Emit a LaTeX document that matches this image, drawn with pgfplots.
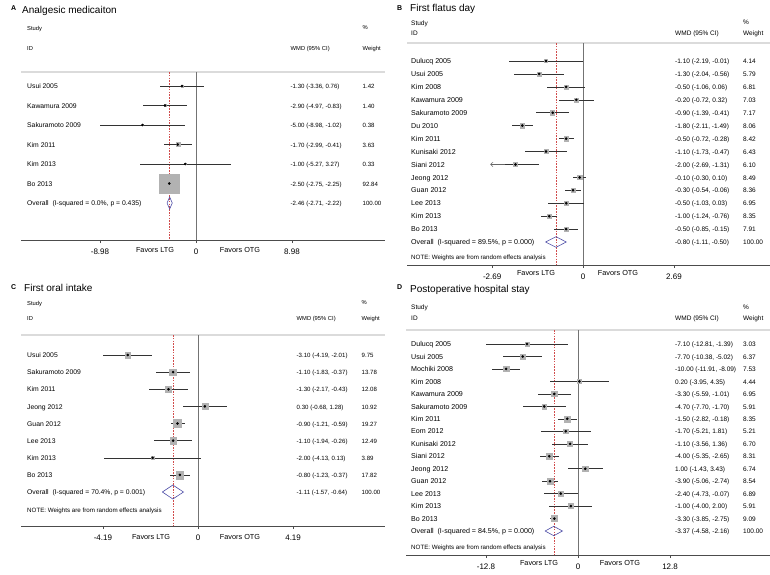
\documentclass[border=0pt]{standalone}
\usepackage{pgfplots}
\pgfplotsset{compat=1.18}
\usepackage{pgfplotstable}
\usepackage{fontspec}
\setmainfont{Liberation Sans}
\usetikzlibrary{arrows.meta}

\definecolor{boxgray}{rgb}{0.70,0.70,0.70}
\definecolor{dmd}{rgb}{0.30,0.30,0.65}
\definecolor{refred}{rgb}{0.82,0.30,0.30}
\definecolor{hdr}{rgb}{0.86,0.86,0.86}
\definecolor{axc}{rgb}{0.30,0.30,0.30}

\newcommand\ftitle{\fontsize{10}{12}\selectfont}
\newcommand\flet{\fontsize{7}{8}\selectfont\bfseries}
\newcommand\fnameS{\fontsize{6.8}{8}\selectfont}
\newcommand\fnameL{\fontsize{7.1}{8}\selectfont}
\newcommand\fheadS{\fontsize{5.8}{7}\selectfont}
\newcommand\fheadL{\fontsize{6.5}{7}\selectfont}
\newcommand\fvalS{\fontsize{6.1}{7}\selectfont}
\newcommand\fvalL{\fontsize{6.5}{7}\selectfont}
\newcommand\fnote{\fontsize{6.2}{7}\selectfont}
\newcommand\ffav{\fontsize{7.3}{8}\selectfont}
\newcommand\ftick{\fontsize{8}{9}\selectfont}

% ---------------- data (y = row position, est, lo, hi, weight) -------------
\pgfplotstableread{
y est lo hi w
-86 -1.30 -3.36 0.76 1.42
-105.5 -2.90 -4.97 -0.83 1.40
-125 -5.00 -8.98 -1.02 0.38
-144.5 -1.70 -2.99 -0.41 3.63
-164 -1.00 -5.27 3.27 0.33
-183.5 -2.50 -2.75 -2.25 92.84
}\tabA
\pgfplotstableread{
y est lo hi w
-61 -1.10 -2.19 -0.01 4.14
-73.9 -1.30 -2.04 -0.56 5.79
-86.9 -0.50 -1.06 0.06 6.81
-99.8 -0.20 -0.72 0.32 7.03
-112.7 -0.90 -1.39 -0.41 7.17
-125.6 -1.80 -2.11 -1.49 8.06
-138.6 -0.50 -0.72 -0.28 8.42
-151.5 -1.10 -1.73 -0.47 6.43
-164.4 -2.00 -2.69 -1.31 6.10
-177.4 -0.10 -0.30 0.10 8.49
-190.3 -0.30 -0.54 -0.06 8.36
-203.2 -0.50 -1.03 0.03 6.95
-216.2 -1.00 -1.24 -0.76 8.35
-229.1 -0.50 -0.85 -0.15 7.91
}\tabB
\pgfplotstableread{
y est lo hi w
-355 -3.10 -4.19 -2.01 9.75
-372.1 -1.10 -1.83 -0.37 13.78
-389.3 -1.30 -2.17 -0.43 12.08
-406.4 0.30 -0.68 1.28 10.92
-423.5 -0.90 -1.21 -0.59 19.27
-440.6 -1.10 -1.94 -0.26 12.49
-457.8 -2.00 -4.13 0.13 3.89
-474.9 -0.80 -1.23 -0.37 17.82
}\tabC
\pgfplotstableread{
y est lo hi w
-344 -7.10 -12.81 -1.39 3.03
-356.5 -7.70 -10.38 -5.02 6.37
-368.9 -10.00 -11.91 -8.09 7.53
-381.4 0.20 -3.95 4.35 4.44
-393.9 -3.30 -5.59 -1.01 6.95
-406.4 -4.70 -7.70 -1.70 5.91
-418.8 -1.50 -2.82 -0.18 8.35
-431.3 -1.70 -5.21 1.81 5.21
-443.8 -1.10 -3.56 1.36 6.70
-456.2 -4.00 -5.35 -2.65 8.31
-468.7 1.00 -1.43 3.43 6.74
-481.2 -3.90 -5.06 -2.74 8.54
-493.6 -2.40 -4.73 -0.07 6.89
-506.1 -1.00 -4.00 2.00 5.91
-518.6 -3.30 -3.85 -2.75 9.09
}\tabD

\pgfplotsset{
  forest/.style={scale only axis, anchor=south west, clip=false,
    axis x line=bottom, axis y line=none,
    x axis line style={-}, axis line style={axc, line width=0.6pt},
    tick align=outside, major tick length=3pt,
    xtick style={axc, line width=0.5pt},
    ytick=\empty,
    xticklabel style={font=\ftick, yshift=-2pt},
  },
  boxes/.style={scatter, only marks, mark=square*,
    scatter/use mapped color={draw=boxgray, fill=boxgray},
    visualization depends on={#1*sqrt(\thisrow{w}) \as \msz},
    scatter/@pre marker code/.append style={/tikz/mark size=\msz}},
  cis/.style={only marks, mark=*, mark size=1.1pt, black,
    error bars/x dir=both, error bars/x explicit, error bars/error mark=none,
    error bars/error bar style={line width=0.55pt, black!80}},
  zeroline/.style={black!55, line width=1pt},
  estline/.style={refred, line width=0.45pt, dash pattern=on 1.6pt off 1.2pt},
  hdrline/.style={hdr, line width=1.2pt},
  dia/.style={dmd, line width=0.6pt, line join=miter},
}
\tikzset{txt/.style={anchor=mid west, inner sep=0pt}}

\begin{document}
\begin{tikzpicture}
\useasboundingbox (0,0) rectangle (770pt,-574pt);

% ======================= Panel A =======================
\begin{axis}[forest, at={(21pt,-240pt)}, width=364pt, height=168pt,
  xmin=-16.37, xmax=17.68, ymin=-240, ymax=-72,
  xtick={-8.98,0,8.98}, xticklabels={-8.98,0,8.98}]
  \addplot[hdrline] coordinates {(-16.37,-72) (17.68,-72)};
  \addplot[estline] coordinates {(-2.46,-72) (-2.46,-240)};
  \addplot[zeroline] coordinates {(0,-72) (0,-240)};
  \addplot[boxes=1.0] table[x=est, y=y] {\tabA};
  \addplot[cis] table[x=est, y=y, x error plus expr={\thisrow{hi}-\thisrow{est}}, x error minus expr={\thisrow{est}-\thisrow{lo}}] {\tabA};
  \addplot[dia] coordinates {(-2.71,-203) (-2.46,-197) (-2.22,-203) (-2.46,-209) (-2.71,-203)};
\end{axis}

% ======================= Panel B =======================
\begin{axis}[forest, at={(407pt,-265pt)}, width=363pt, height=222pt,
  xmin=-5.21, xmax=5.53, ymin=-265, ymax=-43,
  xtick={-2.69,0,2.69}, xticklabels={-2.69,0,2.69}]
  \addplot[hdrline] coordinates {(-5.21,-43) (5.53,-43)};
  \addplot[estline] coordinates {(-0.80,-43) (-0.80,-265)};
  \addplot[zeroline] coordinates {(0,-43) (0,-265)};
  \addplot[boxes=0.75] table[x=est, y=y] {\tabB};
  \addplot[cis] table[x=est, y=y, x error plus expr={\thisrow{hi}-\thisrow{est}}, x error minus expr={\thisrow{est}-\thisrow{lo}}] {\tabB};
  \addplot[black!60, line width=0.5pt, -{Straight Barb[length=2.5pt,width=4.5pt]}] coordinates {(-2.3,-164.4) (-2.75,-164.4)};
  \addplot[dia] coordinates {(-1.11,-242) (-0.80,-236.7) (-0.50,-242) (-0.80,-247.3) (-1.11,-242)};
\end{axis}

% ======================= Panel C =======================
\begin{axis}[forest, at={(21pt,-526pt)}, width=364pt, height=191pt,
  xmin=-7.80, xmax=8.24, ymin=-526, ymax=-335,
  xtick={-4.19,0,4.19}, xticklabels={-4.19,0,4.19}]
  \addplot[hdrline] coordinates {(-7.80,-335) (8.24,-335)};
  \addplot[estline] coordinates {(-1.11,-335) (-1.11,-526)};
  \addplot[zeroline] coordinates {(0,-335) (0,-526)};
  \addplot[boxes=0.91] table[x=est, y=y] {\tabC};
  \addplot[cis] table[x=est, y=y, x error plus expr={\thisrow{hi}-\thisrow{est}}, x error minus expr={\thisrow{est}-\thisrow{lo}}] {\tabC};
  \addplot[dia] coordinates {(-1.57,-492) (-1.11,-485) (-0.64,-492) (-1.11,-499) (-1.57,-492)};
\end{axis}

% ======================= Panel D =======================
\begin{axis}[forest, at={(406pt,-555pt)}, width=364pt, height=225pt,
  xmin=-23.92, xmax=26.70, ymin=-555, ymax=-330,
  xtick={-12.8,0,12.8}, xticklabels={-12.8,0,12.8}]
  \addplot[hdrline] coordinates {(-23.92,-330) (26.70,-330)};
  \addplot[estline] coordinates {(-3.37,-330) (-3.37,-555)};
  \addplot[zeroline] coordinates {(0,-330) (0,-555)};
  \addplot[boxes=1.0] table[x=est, y=y] {\tabD};
  \addplot[cis] table[x=est, y=y, x error plus expr={\thisrow{hi}-\thisrow{est}}, x error minus expr={\thisrow{est}-\thisrow{lo}}] {\tabD};
  \addplot[dia] coordinates {(-4.58,-531) (-3.37,-526.3) (-2.16,-531) (-3.37,-535.7) (-4.58,-531)};
\end{axis}

% ======================= Texts: Panel A =======================
\node[txt, font=\flet] at (11pt,-8pt) {A};
\node[txt, font=\ftitle] at (22pt,-11pt) {Analgesic medicaiton};
\node[txt, font=\fheadS] at (27pt,-28.3pt) {Study};
\node[txt, font=\fheadS] at (27pt,-48.3pt) {ID};
\node[txt, font=\fheadS] at (290.5pt,-48.3pt) {WMD (95\% CI)};
\node[txt, font=\fheadS] at (362.5pt,-27.3pt) {\%};
\node[txt, font=\fheadS] at (362.5pt,-48.3pt) {Weight};
\foreach \y/\n/\v/\w in {
  86/Usui 2005/{-1.30 (-3.36, 0.76)}/1.42,
  105.5/Kawamura 2009/{-2.90 (-4.97, -0.83)}/1.40,
  125/Sakuramoto 2009/{-5.00 (-8.98, -1.02)}/0.38,
  144.5/Kim 2011/{-1.70 (-2.99, -0.41)}/3.63,
  164/Kim 2013/{-1.00 (-5.27, 3.27)}/0.33,
  183.5/Bo 2013/{-2.50 (-2.75, -2.25)}/92.84,
  203/{Overall\ \ (I-squared = 0.0\%, p = 0.435)}/{-2.46 (-2.71, -2.22)}/100.00}{
  \node[txt, font=\fnameS] at (27pt,-\y pt) {\n};
  \node[txt, font=\fvalS] at (290.5pt,-\y pt) {\v};
  \node[txt, font=\fvalS] at (362.5pt,-\y pt) {\w};
}
\node[font=\ffav, inner sep=0pt] at (155pt,-250pt) {Favors LTG};
\node[font=\ffav, inner sep=0pt] at (240pt,-250pt) {Favors OTG};

% ======================= Texts: Panel B =======================
\node[txt, font=\flet] at (397pt,-8pt) {B};
\node[txt, font=\ftitle] at (410pt,-9pt) {First flatus day};
\node[txt, font=\fheadL] at (411pt,-22.7pt) {Study};
\node[txt, font=\fheadL] at (411pt,-33.3pt) {ID};
\node[txt, font=\fheadL] at (675pt,-33.3pt) {WMD (95\% CI)};
\node[txt, font=\fheadL] at (743pt,-21.7pt) {\%};
\node[txt, font=\fheadL] at (743pt,-33.3pt) {Weight};
\foreach \y/\n/\v/\w in {
  61/Dulucq 2005/{-1.10 (-2.19, -0.01)}/4.14,
  73.9/Usui 2005/{-1.30 (-2.04, -0.56)}/5.79,
  86.9/Kim 2008/{-0.50 (-1.06, 0.06)}/6.81,
  99.8/Kawamura 2009/{-0.20 (-0.72, 0.32)}/7.03,
  112.7/Sakuramoto 2009/{-0.90 (-1.39, -0.41)}/7.17,
  125.6/Du 2010/{-1.80 (-2.11, -1.49)}/8.06,
  138.6/Kim 2011/{-0.50 (-0.72, -0.28)}/8.42,
  151.5/Kunisaki 2012/{-1.10 (-1.73, -0.47)}/6.43,
  164.4/Siani 2012/{-2.00 (-2.69, -1.31)}/6.10,
  177.4/Jeong 2012/{-0.10 (-0.30, 0.10)}/8.49,
  190.3/Guan 2012/{-0.30 (-0.54, -0.06)}/8.36,
  203.2/Lee 2013/{-0.50 (-1.03, 0.03)}/6.95,
  216.2/Kim 2013/{-1.00 (-1.24, -0.76)}/8.35,
  229.1/Bo 2013/{-0.50 (-0.85, -0.15)}/7.91,
  242/{Overall\ \ (I-squared = 89.5\%, p = 0.000)}/{-0.80 (-1.11, -0.50)}/100.00}{
  \node[txt, font=\fnameL] at (411pt,-\y pt) {\n};
  \node[txt, font=\fvalL] at (675pt,-\y pt) {\v};
  \node[txt, font=\fvalL] at (743pt,-\y pt) {\w};
}
\node[txt, font=\fnote] at (411pt,-257pt) {NOTE: Weights are from random effects analysis};
\node[font=\ffav, inner sep=0pt] at (536pt,-273pt) {Favors LTG};
\node[font=\ffav, inner sep=0pt] at (618pt,-273pt) {Favors OTG};

% ======================= Texts: Panel C =======================
\node[txt, font=\flet] at (11pt,-287pt) {C};
\node[txt, font=\ftitle] at (24pt,-289pt) {First oral intake};
\node[txt, font=\fheadS] at (27pt,-303.3pt) {Study};
\node[txt, font=\fheadS] at (27pt,-318.3pt) {ID};
\node[txt, font=\fheadS] at (296.5pt,-318.3pt) {WMD (95\% CI)};
\node[txt, font=\fheadS] at (361.5pt,-301.7pt) {\%};
\node[txt, font=\fheadS] at (361.5pt,-318.3pt) {Weight};
\foreach \y/\n/\v/\w in {
  355/Usui 2005/{-3.10 (-4.19, -2.01)}/9.75,
  372.1/Sakuramoto 2009/{-1.10 (-1.83, -0.37)}/13.78,
  389.3/Kim 2011/{-1.30 (-2.17, -0.43)}/12.08,
  406.4/Jeong 2012/{0.30 (-0.68, 1.28)}/10.92,
  423.5/Guan 2012/{-0.90 (-1.21, -0.59)}/19.27,
  440.6/Lee 2013/{-1.10 (-1.94, -0.26)}/12.49,
  457.8/Kim 2013/{-2.00 (-4.13, 0.13)}/3.89,
  474.9/Bo 2013/{-0.80 (-1.23, -0.37)}/17.82,
  492/{Overall\ \ (I-squared = 70.4\%, p = 0.001)}/{-1.11 (-1.57, -0.64)}/100.00}{
  \node[txt, font=\fnameS] at (27pt,-\y pt) {\n};
  \node[txt, font=\fvalS] at (296.5pt,-\y pt) {\v};
  \node[txt, font=\fvalS] at (361.5pt,-\y pt) {\w};
}
\node[txt, font=\fnote] at (27pt,-510pt) {NOTE: Weights are from random effects analysis};
\node[font=\ffav, inner sep=0pt] at (151pt,-537pt) {Favors LTG};
\node[font=\ffav, inner sep=0pt] at (240pt,-537pt) {Favors OTG};

% ======================= Texts: Panel D =======================
\node[txt, font=\flet] at (397pt,-287pt) {D};
\node[txt, font=\ftitle] at (410pt,-290pt) {Postoperative hospital stay};
\node[txt, font=\fheadL] at (411pt,-306.7pt) {Study};
\node[txt, font=\fheadL] at (411pt,-318.3pt) {ID};
\node[txt, font=\fheadL] at (675pt,-318.3pt) {WMD (95\% CI)};
\node[txt, font=\fheadL] at (743pt,-306.7pt) {\%};
\node[txt, font=\fheadL] at (743pt,-318.3pt) {Weight};
\foreach \y/\n/\v/\w in {
  344/Dulucq 2005/{-7.10 (-12.81, -1.39)}/3.03,
  356.5/Usui 2005/{-7.70 (-10.38, -5.02)}/6.37,
  368.9/Mochiki 2008/{-10.00 (-11.91, -8.09)}/7.53,
  381.4/Kim 2008/{0.20 (-3.95, 4.35)}/4.44,
  393.9/Kawamura 2009/{-3.30 (-5.59, -1.01)}/6.95,
  406.4/Sakuramoto 2009/{-4.70 (-7.70, -1.70)}/5.91,
  418.8/Kim 2011/{-1.50 (-2.82, -0.18)}/8.35,
  431.3/Eom 2012/{-1.70 (-5.21, 1.81)}/5.21,
  443.8/Kunisaki 2012/{-1.10 (-3.56, 1.36)}/6.70,
  456.2/Siani 2012/{-4.00 (-5.35, -2.65)}/8.31,
  468.7/Jeong 2012/{1.00 (-1.43, 3.43)}/6.74,
  481.2/Guan 2012/{-3.90 (-5.06, -2.74)}/8.54,
  493.6/Lee 2013/{-2.40 (-4.73, -0.07)}/6.89,
  506.1/Kim 2013/{-1.00 (-4.00, 2.00)}/5.91,
  518.6/Bo 2013/{-3.30 (-3.85, -2.75)}/9.09,
  531/{Overall\ \ (I-squared = 84.5\%, p = 0.000)}/{-3.37 (-4.58, -2.16)}/100.00}{
  \node[txt, font=\fnameL] at (411pt,-\y pt) {\n};
  \node[txt, font=\fvalL] at (675pt,-\y pt) {\v};
  \node[txt, font=\fvalL] at (743pt,-\y pt) {\w};
}
\node[txt, font=\fnote] at (411pt,-547pt) {NOTE: Weights are from random effects analysis};
\node[font=\ffav, inner sep=0pt] at (539pt,-563pt) {Favors LTG};
\node[font=\ffav, inner sep=0pt] at (620pt,-563pt) {Favors OTG};
\end{tikzpicture}
\end{document}
